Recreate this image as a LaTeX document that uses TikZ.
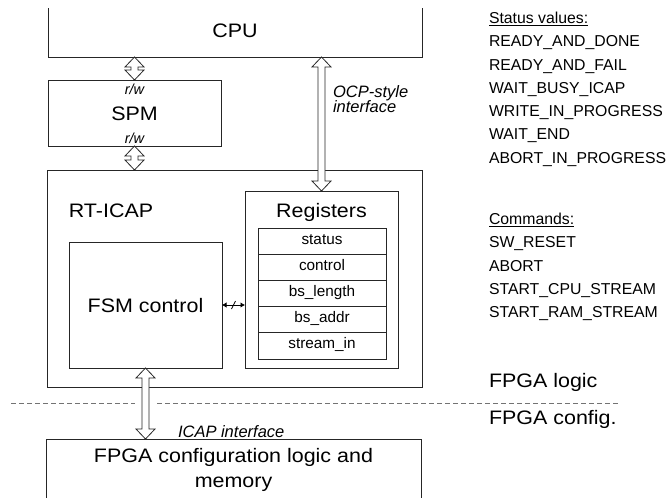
\documentclass[tikz,border=0pt]{standalone}
\usepackage{fontspec}
\setmainfont{Liberation Sans}
\newfontfamily\widesans[FakeStretch=1.1]{Liberation Sans}
\usetikzlibrary{arrows.meta,calc}
\newcommand\fbig{\widesans\fontsize{19.5}{24}\selectfont}
\newcommand\flist{\fontsize{15.8}{18}\selectfont}
\newcommand\freg{\fontsize{15.3}{18}\selectfont}
\newcommand\fitl{\fontsize{14.5}{17}\selectfont\itshape}
\newcommand\fitlb{\fontsize{16.5}{19}\selectfont\itshape}
\begin{document}
\begin{tikzpicture}[x=1pt,y=-1pt,
  every node/.style={inner sep=0pt,outer sep=0pt},
  box/.style={draw=black!85,line width=.8pt,anchor=north west},
  regrow/.style={draw=black!85,line width=.8pt,anchor=north west,minimum width=128pt,minimum height=26.2pt,font=\freg,text height=1.45ex,text depth=.3ex},
  big/.style={font=\fbig,anchor=base},
  lst/.style={font=\flist,anchor=base west},
  ital/.style={font=\fitl,anchor=base},
  italb/.style={font=\fitlb,anchor=base west},
  hollow/.style={draw=black!85,fill=white,line width=.8pt,
    to path={let \p1=(\tikztostart),\p2=(\tikztotarget) in
      (\x1,\y1) -- (\x1+9.5pt,\y1-10pt) -- (\x1+3.5pt,\y1-10pt) -- (\x1+3.5pt,\y2+10pt)
      -- (\x1+9.5pt,\y2+10pt) -- (\x1,\y2) -- (\x1-9.5pt,\y2+10pt) -- (\x1-3.5pt,\y2+10pt)
      -- (\x1-3.5pt,\y1-10pt) -- (\x1-9.5pt,\y1-10pt) -- cycle}},
  bus/.style={draw=black,line width=.8pt,{Latex[length=4.5pt,width=5.5pt]}-{Latex[length=4.5pt,width=5.5pt]}},
  sep/.style={draw=black!55,line width=.8pt,dash pattern=on 5pt off 3pt}]
\clip (0,0) rectangle (668,497);
% CPU (open at the top)
\begin{scope}
  \clip (0,9) rectangle (668,497);
  \node[box,minimum width=374pt,minimum height=80pt] (cpu) at (48,-23) {};
\end{scope}
\node[big] (cputxt) at (235,38) {CPU};
% SPM
\node[box,minimum width=173pt,minimum height=66pt] (spm) at (48,80) {};
\node[big] (spmtxt) at (134.5,121) {SPM};
\node[ital] (rw1) at (134.5,95) {r/w};
\node[ital] (rw2) at (134.5,143) {r/w};
% RT-ICAP
\node[box,minimum width=375pt,minimum height=217pt] (rt) at (47,170) {};
\node[big] (rttxt) at (111,217) {RT-ICAP};
\node[box,minimum width=153pt,minimum height=177pt] (reg) at (245,191) {};
\node[big] (regtxt) at (321.5,217) {Registers};
\node[regrow] (r1) at (258,228) {status};
\node[regrow] (r2) at (258,254.2) {control};
\node[regrow] (r3) at (258,280.4) {bs\_length};
\node[regrow] (r4) at (258,306.6) {bs\_addr};
\node[regrow] (r5) at (258,332.8) {stream\_in};
\node[box,minimum width=153pt,minimum height=126pt] (fsm) at (69,242) {};
\node[big] (fsmtxt) at (145.5,312) {FSM control};
% configuration logic
\node[box,minimum width=375pt,minimum height=80pt] (cfg) at (46,439) {};
\node[big] (cfgt1) at (233.5,462) {FPGA configuration logic and};
\node[big] (cfgt2) at (233.5,487) {memory};
% separator
\coordinate (dl) at (11,403);
\coordinate (dm1) at (135,403);
\coordinate (dm2) at (157,403);
\coordinate (dr) at (620,403);
\draw[sep] (dl) -- (dm1);
\draw[sep] (dm2) -- (dr);
% hollow arrows
\coordinate (a1) at (spm.north |- cpu.south);
\coordinate (a2) at (spm.south |- rt.north);
\coordinate (a3) at (reg.north |- cpu.south);
\coordinate (a4) at (fsm.south |- cfg.north);
\draw[hollow] (a1) to (spm.north);
\draw[hollow] (spm.south) to (a2);
\draw[hollow] (a3) to (reg.north);
\draw[hollow] (fsm.south) to (a4);
% bus arrow
\coordinate (busend) at (fsm.east -| reg.west);
\coordinate (busmid) at ($(fsm.east)!.5!(busend)$);
\draw[bus] (fsm.east) -- (busend);
\draw[line width=.7pt] (busmid) +(-2,4) -- +(2,-4);
% labels
\node[italb] (ocp1) at (333,98) {OCP-style};
\node[italb] (ocp2) at (333,113) {interface};
\node[italb] (icap) at (178,437) {ICAP interface};
\node[big,anchor=base west] (flogic) at (489,387) {FPGA logic};
\node[big,anchor=base west] (fconf) at (489,424) {FPGA config.};
% right-hand lists
\node[lst] (sv0) at (489,23.5) {\underline{Status values:}};
\node[lst] (sv1) at (489,46.8) {READY\_AND\_DONE};
\node[lst] (sv2) at (489,70.1) {READY\_AND\_FAIL};
\node[lst] (sv3) at (489,93.4) {WAIT\_BUSY\_ICAP};
\node[lst] (sv4) at (489,116.7) {WRITE\_IN\_PROGRESS};
\node[lst] (sv5) at (489,140) {WAIT\_END};
\node[lst] (sv6) at (489,163.3) {ABORT\_IN\_PROGRESS};
\node[lst] (cm0) at (489,224.5) {\underline{Commands:}};
\node[lst] (cm1) at (489,247.8) {SW\_RESET};
\node[lst] (cm2) at (489,271.1) {ABORT};
\node[lst] (cm3) at (489,294.4) {START\_CPU\_STREAM};
\node[lst] (cm4) at (489,317.7) {START\_RAM\_STREAM};
\end{tikzpicture}
\end{document}
